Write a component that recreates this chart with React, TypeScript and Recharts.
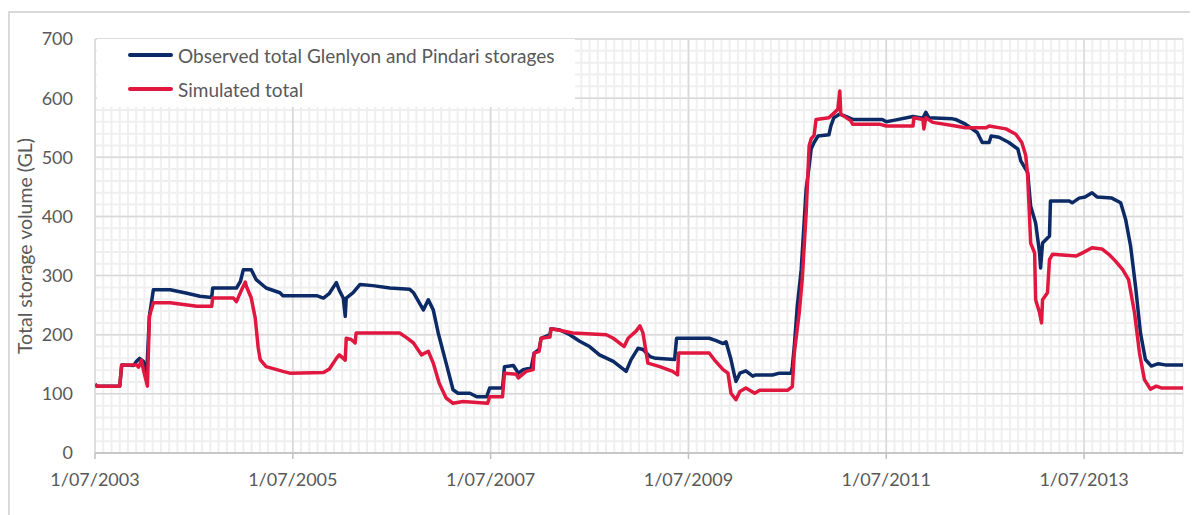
import React from "react";
import {
  LineChart,
  Line,
  XAxis,
  YAxis,
  CartesianGrid,
  Legend,
} from "recharts";

// Decimal years and storage (GL) for the observed Glenlyon + Pindari total
const obsDates = [
  2003.5, 2003.52, 2003.75, 2003.77, 2003.89, 2003.92, 2003.95, 2003.99, 2004.02, 2004.05,
  2004.09, 2004.26, 2004.43, 2004.56, 2004.68, 2004.69, 2004.93, 2004.97, 2005.0, 2005.08,
  2005.13, 2005.23, 2005.37, 2005.4, 2005.74, 2005.81, 2005.87, 2005.94, 2005.97, 2006.01,
  2006.03, 2006.04, 2006.11, 2006.18, 2006.31, 2006.48, 2006.68, 2006.72, 2006.82, 2006.87,
  2006.92, 2006.97, 2007.05, 2007.12, 2007.17, 2007.29, 2007.36, 2007.46, 2007.49, 2007.62,
  2007.64, 2007.73, 2007.78, 2007.83, 2007.91, 2007.94, 2007.99, 2008.01, 2008.1, 2008.11,
  2008.2, 2008.3, 2008.4, 2008.5, 2008.6, 2008.74, 2008.87, 2008.92, 2008.99, 2009.04,
  2009.11, 2009.17, 2009.36, 2009.38, 2009.71, 2009.78, 2009.85, 2009.88, 2009.93, 2009.96,
  2009.98, 2010.02, 2010.08, 2010.15, 2010.18, 2010.35, 2010.42, 2010.54, 2010.55, 2010.57,
  2010.6, 2010.64, 2010.69, 2010.72, 2010.74, 2010.77, 2010.81, 2010.92, 2010.94, 2010.97,
  2011.03, 2011.09, 2011.16, 2011.46, 2011.5, 2011.56, 2011.77, 2011.87, 2011.9, 2011.93,
  2012.17, 2012.2, 2012.3, 2012.42, 2012.47, 2012.54, 2012.56, 2012.64, 2012.74, 2012.83,
  2012.86, 2012.93, 2012.96, 2013.01, 2013.05, 2013.06, 2013.08, 2013.15, 2013.16, 2013.35,
  2013.38, 2013.45, 2013.51, 2013.58, 2013.63, 2013.78, 2013.87, 2013.92, 2013.97, 2014.02,
  2014.07, 2014.12, 2014.18, 2014.25, 2014.32, 2014.5,
];
const obsVolumes = [
  116, 113, 113, 149, 148, 155, 160, 155, 125, 231,
  276, 276, 270, 265, 263, 279, 279, 290, 310, 310,
  293, 279, 271, 266, 266, 262, 270, 288, 275, 262,
  231, 262, 271, 285, 283, 279, 277, 271, 242, 259,
  242, 203, 152, 107, 101, 101, 95, 95, 110, 110,
  146, 148, 135, 141, 144, 169, 175, 194, 200, 210,
  208, 200, 189, 180, 166, 155, 138, 158, 177, 175,
  163, 160, 158, 194, 194, 190, 185, 188, 158, 135,
  121, 135, 139, 130, 132, 132, 135, 135, 146, 180,
  248, 310, 446, 485, 514, 525, 536, 538, 553, 567,
  573, 569, 564, 564, 560, 562, 569, 566, 576, 567,
  565, 564, 556, 542, 525, 525, 536, 534, 525, 514,
  494, 474, 417, 389, 338, 313, 355, 367, 426, 426,
  423, 431, 433, 440, 433, 431, 423, 395, 350, 282,
  203, 158, 147, 151, 149, 149,
];

// Simulated total storage
const simDates = [
  2003.5, 2003.52, 2003.75, 2003.77, 2003.92, 2003.94, 2003.97, 2003.99, 2004.03, 2004.05,
  2004.09, 2004.26, 2004.53, 2004.68, 2004.69, 2004.9, 2004.93, 2004.98, 2005.02, 2005.03,
  2005.08, 2005.12, 2005.15, 2005.17, 2005.23, 2005.4, 2005.47, 2005.81, 2005.87, 2005.94,
  2005.97, 2006.03, 2006.04, 2006.09, 2006.13, 2006.14, 2006.58, 2006.65, 2006.72, 2006.8,
  2006.87, 2006.92, 2006.98, 2007.05, 2007.12, 2007.22, 2007.47, 2007.49, 2007.62, 2007.64,
  2007.76, 2007.78, 2007.86, 2007.93, 2007.94, 2007.99, 2008.01, 2008.1, 2008.11, 2008.21,
  2008.33, 2008.67, 2008.74, 2008.85, 2008.89, 2008.97, 2009.01, 2009.04, 2009.09, 2009.21,
  2009.34, 2009.39, 2009.4, 2009.71, 2009.76, 2009.85, 2009.9, 2009.93, 2009.98, 2010.02,
  2010.08, 2010.17, 2010.22, 2010.5, 2010.55, 2010.57, 2010.62, 2010.65, 2010.69, 2010.72,
  2010.74, 2010.77, 2010.79, 2010.92, 2010.96, 2011.01, 2011.03, 2011.04, 2011.14, 2011.16,
  2011.43, 2011.5, 2011.77, 2011.78, 2011.87, 2011.88, 2011.9, 2011.97, 2012.2, 2012.3,
  2012.51, 2012.54, 2012.71, 2012.81, 2012.87, 2012.91, 2012.93, 2012.94, 2012.96, 2013.0,
  2013.01, 2013.05, 2013.07, 2013.08, 2013.13, 2013.15, 2013.18, 2013.42, 2013.48, 2013.58,
  2013.68, 2013.75, 2013.82, 2013.89, 2013.95, 2014.01, 2014.06, 2014.11, 2014.17, 2014.23,
  2014.28, 2014.5,
];
const simVolumes = [
  116, 113, 113, 149, 149, 145, 157, 140, 113, 231,
  254, 254, 248, 248, 262, 262, 256, 275, 289, 282,
  262, 228, 178, 158, 146, 138, 135, 136, 142, 160,
  166, 157, 194, 192, 186, 203, 203, 195, 186, 166,
  172, 152, 118, 93, 84, 87, 84, 95, 95, 135,
  133, 127, 138, 141, 169, 172, 194, 196, 210, 207,
  203, 200, 194, 180, 194, 206, 215, 203, 152, 146,
  138, 132, 169, 169, 158, 141, 135, 101, 90, 104,
  110, 101, 106, 106, 112, 169, 237, 293, 406, 519,
  531, 537, 564, 567, 573, 581, 612, 573, 562, 556,
  556, 553, 553, 567, 564, 548, 567, 559, 553, 550,
  550, 553, 548, 539, 525, 503, 468, 430, 355, 338,
  259, 237, 220, 259, 271, 327, 336, 333, 338, 347,
  345, 336, 324, 310, 293, 237, 169, 124, 108, 113,
  110, 110,
];

const yearTicks = [2003.5, 2005.5, 2007.5, 2009.5, 2011.5, 2013.5];
const volumeTicks = [0, 100, 200, 300, 400, 500, 600, 700];

const X_DOMAIN: [number, number] = [2003.5, 2014.5];
const Y_DOMAIN: [number, number] = [0, 700];

const observed = obsDates.map((t, i) => ({ t, v: obsVolumes[i] }));
const simulated = simDates.map((t, i) => ({ t, v: simVolumes[i] }));

// light minor grid: every month and every 20 GL
const monthLines = Array.from({ length: 133 }, (_, i) => X_DOMAIN[0] + i / 12);
const minorVolumeLines = Array.from({ length: 36 }, (_, i) => i * 20);

// grid generators place lines at exact values (the default drops "crowded" ticks)
const xGen = (values: number[]) => ({ offset }: any) =>
  values.map(
    (v) => offset.left + ((v - X_DOMAIN[0]) / (X_DOMAIN[1] - X_DOMAIN[0])) * offset.width
  );
const yGen = (values: number[]) => ({ offset }: any) =>
  values.map(
    (v) => offset.top + (1 - (v - Y_DOMAIN[0]) / (Y_DOMAIN[1] - Y_DOMAIN[0])) * offset.height
  );

const FONT = "Lato, 'Open Sans', sans-serif";
const NAVY = "#0c2a66";
const RED = "#e0173f";
const TEXT = "#595959";

const legendItems = [
  { label: "Observed total Glenlyon and Pindari storages", color: NAVY },
  { label: "Simulated total", color: RED },
];

function StorageLegend() {
  return (
    <div
      style={{
        width: "100%",
        height: "100%",
        background: "#fff",
        fontFamily: FONT,
        fontSize: 19,
        color: TEXT,
      }}
    >
      {legendItems.map((item, i) => (
        <div
          key={item.label}
          style={{
            position: "absolute",
            left: 31,
            top: 3 + i * 34,
            height: 26,
            display: "flex",
            alignItems: "center",
            whiteSpace: "nowrap",
          }}
        >
          <span
            style={{
              display: "inline-block",
              width: 45,
              height: 3.5,
              background: item.color,
              borderRadius: 2,
              marginRight: 5,
            }}
          />
          {item.label}
        </div>
      ))}
    </div>
  );
}

export default function App() {
  return (
    <div style={{ position: "relative", width: 1190, height: 507 }}>
      <div
        style={{
          position: "absolute",
          left: 0,
          top: 3,
          width: 1190,
          height: 504,
          borderLeft: "2px solid #d9d9d9",
          borderTop: "2px solid #d9d9d9",
          boxSizing: "border-box",
        }}
      />
      <div style={{ position: "absolute", left: 0, top: 0 }}>
        <LineChart
          width={1190}
          height={507}
          margin={{ top: 31, right: 15, bottom: 32, left: 47 }}
        >
          <CartesianGrid
            stroke="#efefef"
            strokeWidth={2}
            verticalCoordinatesGenerator={xGen(monthLines)}
            horizontalCoordinatesGenerator={yGen(minorVolumeLines)}
          />
          <CartesianGrid
            stroke="#d9d9d9"
            strokeWidth={1.5}
            verticalCoordinatesGenerator={xGen(yearTicks)}
            horizontalCoordinatesGenerator={yGen(volumeTicks)}
          />
          <XAxis
            type="number"
            dataKey="t"
            domain={X_DOMAIN}
            ticks={yearTicks}
            allowDataOverflow
            tickFormatter={(v: number) => `1/07/${Math.floor(v)}`}
            stroke="#bfbfbf"
            strokeWidth={1.5}
            tickSize={6}
            tickMargin={14}
            tick={{ fill: TEXT, fontSize: 18, fontFamily: FONT }}
          />
          <YAxis
            type="number"
            domain={Y_DOMAIN}
            ticks={volumeTicks}
            width={40}
            axisLine={false}
            tickLine={false}
            tickSize={0}
            tickMargin={22}
            tick={{ fill: TEXT, fontSize: 18, fontFamily: FONT }}
            label={{
              value: "Total storage volume (GL)",
              angle: -90,
              position: "insideLeft",
              offset: -30,
              style: { fill: TEXT, fontSize: 19.5, fontFamily: FONT, textAnchor: "middle" },
            }}
          />
          <Legend
            layout="horizontal"
            verticalAlign="middle"
            align="center"
            content={<StorageLegend />}
            wrapperStyle={{ left: 89, top: 31, width: 478, height: 68 }}
          />
          <Line
            data={observed}
            dataKey="v"
            name="Observed total Glenlyon and Pindari storages"
            stroke={NAVY}
            strokeWidth={3.5}
            dot={false}
            strokeLinejoin="round"
            isAnimationActive={false}
          />
          <Line
            data={simulated}
            dataKey="v"
            name="Simulated total"
            stroke={RED}
            strokeWidth={3.5}
            dot={false}
            strokeLinejoin="round"
            isAnimationActive={false}
          />
        </LineChart>
      </div>
    </div>
  );
}
